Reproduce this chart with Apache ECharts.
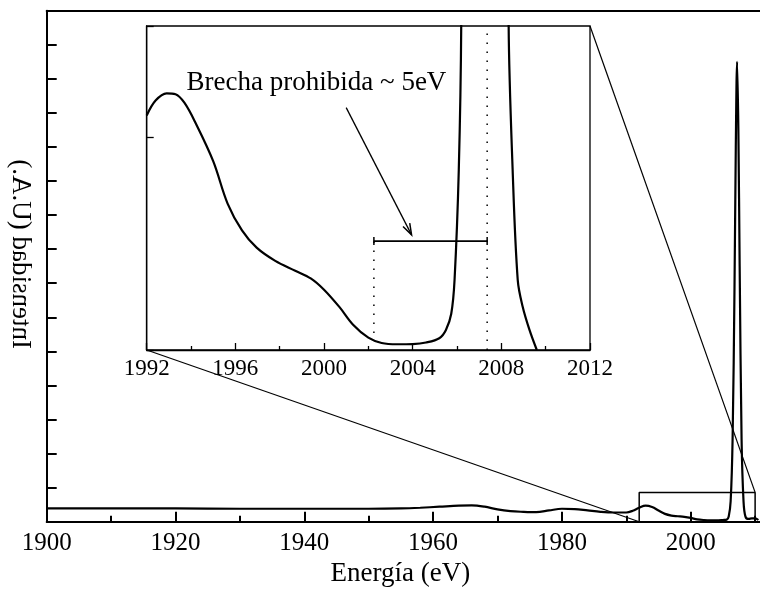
<!DOCTYPE html>
<html>
<head>
<meta charset="utf-8">
<script src="https://cdn.jsdelivr.net/npm/echarts@6/dist/echarts.min.js"></script>
<style>
html,body{margin:0;padding:0;background:#fff;}
#c{width:760px;height:602px;}
</style>
</head>
<body>
<div id="c"></div>
<script>
// ---- data ----
const mainEnergy = [1900,1910,1920,1930,1940,1950,1955,1958,1961,1964,1966,1968,1970,1972,1974,1976,1978,1980,1982,1984,1986,1988,1990,1991,1992,1993,1994,1995,1996,1997,1998,1999,2000,2001,2002,2003,2004,2005,2005.6,2005.9,2006.2,2006.5,2006.8,2007.0,2007.2,2007.4,2007.6,2007.9,2008.2,2008.5,2009.0,2009.5,2010.0,2010.5];
const mainIntensity = [0.39,0.39,0.39,0.38,0.38,0.38,0.39,0.41,0.44,0.47,0.48,0.44,0.36,0.31,0.29,0.28,0.33,0.38,0.37,0.33,0.29,0.27,0.27,0.32,0.41,0.47,0.43,0.33,0.23,0.18,0.16,0.14,0.11,0.07,0.05,0.04,0.04,0.05,0.06,0.15,0.6,2.4,6.9,11.0,13.5,11.5,7.5,2.4,0.6,0.15,0.08,0.1,0.1,0.05];

const insetEnergy = [1992.0,1992.4,1992.9,1993.3,1993.7,1994.2,1995.0,1995.65,1996.3,1996.96,1997.8,1998.7,1999.4,2000.0,2000.7,2001.3,2002.0,2002.6,2003.3,2004.0,2004.6,2005.2,2005.5,2005.74,2005.89,2006.08,2006.19,2006.4,2007.25,2008.1,2008.33,2008.51,2008.74,2008.96,2009.27,2009.6];
const insetIntensity = [1.10,1.17,1.204,1.20,1.16,1.066,0.886,0.687,0.561,0.48,0.418,0.372,0.336,0.283,0.201,0.12,0.058,0.033,0.027,0.028,0.035,0.055,0.094,0.17,0.33,0.845,1.52,6,20,6,1.52,0.845,0.328,0.204,0.094,0];

// zoom box on main plot (energy range, intensity top)
const zoomBoxEnergy = [1992, 1992, 2010, 2010];
const zoomBoxIntensity = [0, 0.86, 0.86, 0];

// band-gap annotation in inset
const gapEdges = [2002.25, 2007.36];
const gapLevel = 0.511;
const leftDotBottom = 0.08;
const arrowFrom = [2001.0, 1.137];
const arrowTo = [2003.95, 0.54];
const noteText = 'Brecha prohibida ~ 5eV';
const notePos = [1993.8, 1.255];

const mainXTicks = [1900, 1920, 1940, 1960, 1980, 2000];
const insetXTicks = [1992, 1996, 2000, 2004, 2008, 2012];

const xName = 'Energía (eV)';
const yName = 'Intensidad (U.A.)';

// ---- chart ----
const FONT = "'Liberation Serif','Times New Roman',serif";
const chart = echarts.init(document.getElementById('c'), null, {renderer: 'canvas'});

const pair = (xs, ys) => xs.map((x, i) => [x, ys[i]]);

const option = {
  animation: false,
  backgroundColor: '#fff',
  grid: [
    {left: 46.7, width: 721.3, top: 10.7, height: 511, show: false, outerBoundsMode: 'none', containLabel: false},
    {left: 146.7, right: 170, top: 26, bottom: 252, show: true, borderColor: '#000', borderWidth: 1.3, outerBoundsMode: 'none', containLabel: false}
  ],
  xAxis: [
    {
      type: 'value', gridIndex: 0, position: 'bottom', min: 1900, max: 2012, interval: 20,
      axisLine: {show: true, onZero: false, lineStyle: {color: '#000', width: 2}},
      axisTick: {show: true, inside: true, length: 10, lineStyle: {color: '#000', width: 2}},
      axisLabel: {show: true, margin: 9, color: '#000', fontFamily: FONT, fontSize: 25, showMaxLabel: false,
        formatter: v => mainXTicks.includes(v) ? String(v) : ''},
      splitLine: {show: false},
      name: xName, nameLocation: 'middle', nameGap: 36,
      nameTextStyle: {color: '#000', fontFamily: FONT, fontSize: 27, padding: [0, 14, 0, 0]}
    },
    {
      type: 'value', gridIndex: 0, position: 'bottom', offset: 0, min: 1900, max: 2012, interval: 10,
      axisLine: {show: false, onZero: false},
      axisTick: {show: true, inside: true, length: 6, lineStyle: {color: '#000', width: 2}},
      axisLabel: {show: false}, splitLine: {show: false}
    },
    {
      type: 'value', gridIndex: 1, min: 1992, max: 2012, interval: 4,
      axisLine: {show: true, lineStyle: {color: '#000', width: 1.3}},
      axisTick: {show: true, inside: true, length: 7, lineStyle: {color: '#000', width: 1.3}},
      minorTick: {show: true, splitNumber: 2, length: 4, lineStyle: {color: '#000', width: 1.3}},
      axisLabel: {show: true, margin: 7, color: '#000', fontFamily: FONT, fontSize: 23,
        formatter: v => insetXTicks.includes(v) ? String(v) : ''},
      splitLine: {show: false}
    },
    {
      type: 'value', gridIndex: 0, min: 1900, max: 2012, position: 'top',
      axisLine: {show: true, onZero: false, lineStyle: {color: '#000', width: 2}},
      axisTick: {show: false}, axisLabel: {show: false}, splitLine: {show: false}
    }
  ],
  yAxis: [
    {
      type: 'value', gridIndex: 0, min: 0, max: 15, interval: 1,
      axisLine: {show: true, lineStyle: {color: '#000', width: 2}},
      axisTick: {show: true, inside: true, length: 10, lineStyle: {color: '#000', width: 2}},
      axisLabel: {show: false}, splitLine: {show: false}
    },
    {
      type: 'value', gridIndex: 1, min: 0, max: 1.52, interval: 1,
      axisLine: {show: true, lineStyle: {color: '#000', width: 1.3}},
      axisTick: {show: true, inside: true, length: 7, lineStyle: {color: '#000', width: 1.3}},
      axisLabel: {show: false}, splitLine: {show: false}
    }
  ],
  series: [
    {
      type: 'line', xAxisIndex: 0, yAxisIndex: 0, data: pair(mainEnergy, mainIntensity),
      showSymbol: false, smooth: 0.35,
      lineStyle: {color: '#000', width: 2.2}, clip: true, z: 5
    },
    {
      type: 'line', xAxisIndex: 0, yAxisIndex: 0, data: pair(zoomBoxEnergy, zoomBoxIntensity),
      showSymbol: false, lineStyle: {color: '#000', width: 1.5}, z: 4
    },
    {
      type: 'line', xAxisIndex: 2, yAxisIndex: 1, data: pair(insetEnergy, insetIntensity),
      showSymbol: false, smooth: 0.35,
      lineStyle: {color: '#000', width: 2.2}, clip: true, z: 5
    },
    {
      type: 'line', xAxisIndex: 2, yAxisIndex: 1,
      data: [[gapEdges[0], leftDotBottom], [gapEdges[0], gapLevel]],
      showSymbol: false, lineStyle: {color: '#000', width: 1.5, type: [1.5, 7.5]}, z: 3
    },
    {
      type: 'line', xAxisIndex: 2, yAxisIndex: 1,
      data: [[gapEdges[1], 0], [gapEdges[1], 1.52]],
      showSymbol: false, lineStyle: {color: '#000', width: 1.5, type: [1.5, 7.5]}, z: 3
    },
    {
      type: 'line', xAxisIndex: 2, yAxisIndex: 1,
      data: [[gapEdges[0], gapLevel], [gapEdges[1], gapLevel]],
      showSymbol: true, symbol: 'rect', symbolSize: [1.5, 8],
      itemStyle: {color: '#000'}, lineStyle: {color: '#000', width: 1.8}, z: 6
    },
    {
      type: 'line', xAxisIndex: 2, yAxisIndex: 1,
      data: [arrowFrom, arrowTo],
      showSymbol: false, lineStyle: {color: '#000', width: 1.3}, z: 6
    }
  ]
};
chart.setOption(option);

// connector lines, arrow head and texts placed through the axes' own scales
const toMain = pt => chart.convertToPixel({xAxisIndex: 0, yAxisIndex: 0}, pt);
const toInset = pt => chart.convertToPixel({xAxisIndex: 2, yAxisIndex: 1}, pt);
const a1 = toInset([1992, 0]);
const b1 = toMain([zoomBoxEnergy[0], 0]);
const a2 = toInset([2012, 1.52]);
const b2 = toMain([zoomBoxEnergy[2], zoomBoxIntensity[1]]);
const np = toInset(notePos);
const yMid = (toMain([1900, 0])[1] + toMain([1900, 15])[1]) / 2;

// arrow head barbs
const p0 = toInset(arrowFrom), p1 = toInset(arrowTo);
const ang = Math.atan2(p1[1] - p0[1], p1[0] - p0[0]);
const L = 12, spread = 0.32;
const barbA = [p1[0] - L * Math.cos(ang - spread), p1[1] - L * Math.sin(ang - spread)];
const barbB = [p1[0] - L * Math.cos(ang + spread), p1[1] - L * Math.sin(ang + spread)];

chart.setOption({
  graphic: [
    {type: 'line', shape: {x1: a1[0], y1: a1[1], x2: b1[0], y2: b1[1]}, style: {stroke: '#000', lineWidth: 1.2}, z: 10},
    {type: 'line', shape: {x1: a2[0], y1: a2[1], x2: b2[0], y2: b2[1]}, style: {stroke: '#000', lineWidth: 1.2}, z: 10},
    {type: 'polyline', shape: {points: [barbA, p1, barbB]}, style: {stroke: '#000', lineWidth: 1.5, fill: null}, z: 10},
    {type: 'text', x: np[0], y: np[1], style: {text: noteText, fill: '#000', font: "27px 'Liberation Serif','Times New Roman',serif", textAlign: 'left', textVerticalAlign: 'middle'}, z: 10},
    {type: 'text', x: 20, y: yMid - 12, rotation: Math.PI / 2, scaleY: -1,
      style: {text: yName, fill: '#000', font: "27px 'Liberation Serif','Times New Roman',serif", textAlign: 'center', textVerticalAlign: 'middle'}, z: 10}
  ]
});
</script>
</body>
</html>
